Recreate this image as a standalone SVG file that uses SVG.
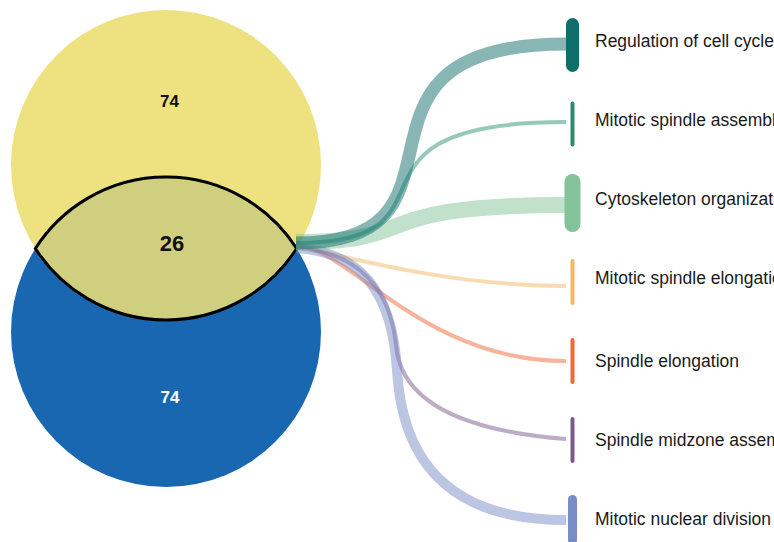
<svg xmlns="http://www.w3.org/2000/svg" width="774" height="542" viewBox="0 0 774 542">
  <style>
    .count { font-family: "Liberation Sans", Arial, sans-serif; font-weight: bold; text-anchor: middle; }
    .label { font-family: "Liberation Sans", Arial, sans-serif; font-size: 17.5px; fill: #1a1a1a; }
    .link { fill: none; stroke-opacity: 0.5; stroke-linecap: butt; }
    .bar { stroke-linecap: round; }
  </style>
  <rect width="774" height="542" fill="#ffffff"/>

  <!-- Venn diagram of the two gene sets -->
  <g id="set-a">
    <circle cx="166" cy="165" r="155" fill="#ede180"/>
    <text class="count" x="169.5" y="107" font-size="17" fill="#111111">74</text>
  </g>
  <g id="set-b">
    <circle cx="166" cy="332" r="155" fill="#1a67b1"/>
    <text class="count" x="170" y="403" font-size="17" fill="#ffffff">74</text>
  </g>
  <g id="overlap">
    <path d="M35.4,248.5 A155,155 0 0 1 296.6,248.5 A155,155 0 0 1 35.4,248.5 Z" fill="#d0cf80" stroke="#000000" stroke-width="3" stroke-linejoin="miter"/>
    <text class="count" x="172" y="251" font-size="22" fill="#111111">26</text>
  </g>

  <!-- Links from the shared genes to enriched terms -->
  <g id="connectors">
    <path class="link" d="M296,246 C310,246 430,286 566,286" stroke="#f2b866" stroke-width="4"/>
    <path class="link" d="M296,246 C349,246 420,361 566,361" stroke="#ee6a3a" stroke-width="4"/>
    <path class="link" d="M296,248 C360,252 390,290 396,345 C400,395 450,430 566,439" stroke="#7b5a8b" stroke-width="4"/>
    <path class="link" d="M296,248 C360,252 392,290 397,370 C401,440 430,520 566,520" stroke="#7a8cc6" stroke-width="10"/>
    <path class="link" d="M296,242 C428,242 360,205 566,205" stroke="#84c39a" stroke-width="16"/>
    <path class="link" d="M296,243 C475,243 318,122 566,122" stroke="#2e9474" stroke-width="4"/>
    <path class="link" d="M296,243 C495,243 316,44 566,44" stroke="#0f6e6b" stroke-width="13"/>
  </g>

  <!-- Enriched terms -->
  <g id="term-regulation-of-cell-cycle">
    <line class="bar" x1="572.5" y1="24.5" x2="572.5" y2="65.5" stroke="#0f6e6b" stroke-width="13"/>
    <text class="label" x="595" y="47">Regulation of cell cycle</text>
  </g>
  <g id="term-mitotic-spindle-assembly">
    <line class="bar" x1="572.5" y1="103.5" x2="572.5" y2="144.5" stroke="#2e8b6d" stroke-width="4"/>
    <text class="label" x="595" y="126">Mitotic spindle assembly</text>
  </g>
  <g id="term-cytoskeleton-organization">
    <line class="bar" x1="572.5" y1="182" x2="572.5" y2="224" stroke="#84c39a" stroke-width="16"/>
    <text class="label" x="595" y="205">Cytoskeleton organization</text>
  </g>
  <g id="term-mitotic-spindle-elongation">
    <line class="bar" x1="572.5" y1="261" x2="572.5" y2="303" stroke="#f2b866" stroke-width="4"/>
    <text class="label" x="595" y="284">Mitotic spindle elongation</text>
  </g>
  <g id="term-spindle-elongation">
    <line class="bar" x1="572.5" y1="340" x2="572.5" y2="382" stroke="#ee6a3a" stroke-width="4"/>
    <text class="label" x="595" y="367">Spindle elongation</text>
  </g>
  <g id="term-spindle-midzone-assembly">
    <line class="bar" x1="572.5" y1="419" x2="572.5" y2="461" stroke="#7b5a8b" stroke-width="4"/>
    <text class="label" x="595" y="446">Spindle midzone assembly</text>
  </g>
  <g id="term-mitotic-nuclear-division">
    <line class="bar" x1="572.5" y1="499.5" x2="572.5" y2="540" stroke="#7a8cc6" stroke-width="9"/>
    <text class="label" x="595" y="525">Mitotic nuclear division</text>
  </g>
</svg>
